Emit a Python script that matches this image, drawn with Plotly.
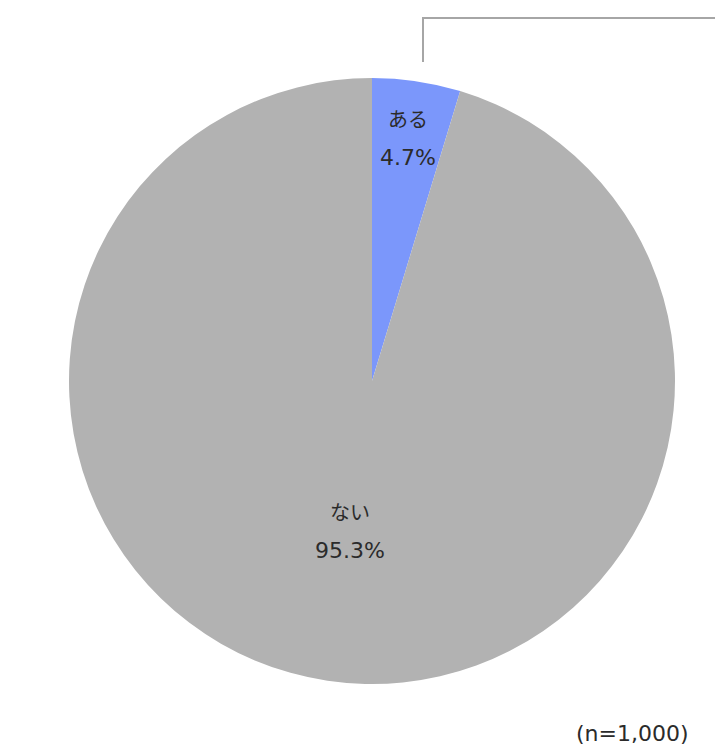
import math
import plotly.graph_objects as go

labels = ["ある", "ない"]
values = [4.7, 95.3]
colors = ["#7B97FB", "#B2B2B2"]
radius_frac = [0.81, 0.50]
note = "(n=1,000)"

# the page body has an 8px margin, so the figure origin sits at (8, 8) in the window
OFF = 8
W, H = 723 - OFF, 747 - OFF
cx, cy, R = 372 - OFF, 381 - OFF, 303


def X(px):
    return px / W


def Y(py):
    return 1 - py / H


fig = go.Figure(go.Pie(
    labels=labels, values=values, sort=False, direction="clockwise", rotation=0,
    marker=dict(colors=colors, line=dict(width=0)),
    textinfo="none", hoverinfo="label+percent", showlegend=False,
    domain=dict(x=[X(cx - R), X(cx + R)], y=[Y(cy + R), Y(cy - R)]),
))

jp_font = dict(family="Noto Sans CJK JP, DejaVu Sans", size=20, color="#2B2B2B")
num_font = dict(family="DejaVu Sans, Noto Sans CJK JP", size=22, color="#2B2B2B")
total = sum(values)
start = 0.0
anns = []
for lab, v, rf in zip(labels, values, radius_frac):
    mid = (start + v / 2) / total * 2 * math.pi
    start += v
    px = cx + rf * R * math.sin(mid)
    py = cy - rf * R * math.cos(mid)
    anns.append(dict(x=X(px), y=Y(py), xref="paper", yref="paper", text=lab,
                     showarrow=False, font=jp_font, yshift=19.5, xanchor="center", yanchor="middle"))
    anns.append(dict(x=X(px), y=Y(py), xref="paper", yref="paper",
                     text=f"{v / total * 100:.1f}%",
                     showarrow=False, font=num_font, yshift=-19.5, xanchor="center", yanchor="middle"))

anns.append(dict(x=X(691 - OFF), y=Y(733 - OFF), xref="paper", yref="paper", text=note,
                 showarrow=False, font=num_font, xanchor="right", yanchor="middle"))

lx = 423 - OFF
fig.update_layout(
    width=W, height=H, margin=dict(l=0, r=0, t=0, b=0),
    paper_bgcolor="white", plot_bgcolor="white",
    annotations=anns,
    shapes=[
        dict(type="path", xref="paper", yref="paper",
             path=f"M {X(lx)},{Y(62 - OFF)} L {X(lx)},{Y(18 - OFF)} L 1,{Y(18 - OFF)}",
             line=dict(color="#A6A6A6", width=2)),
    ],
)
fig.write_html("out.html")
